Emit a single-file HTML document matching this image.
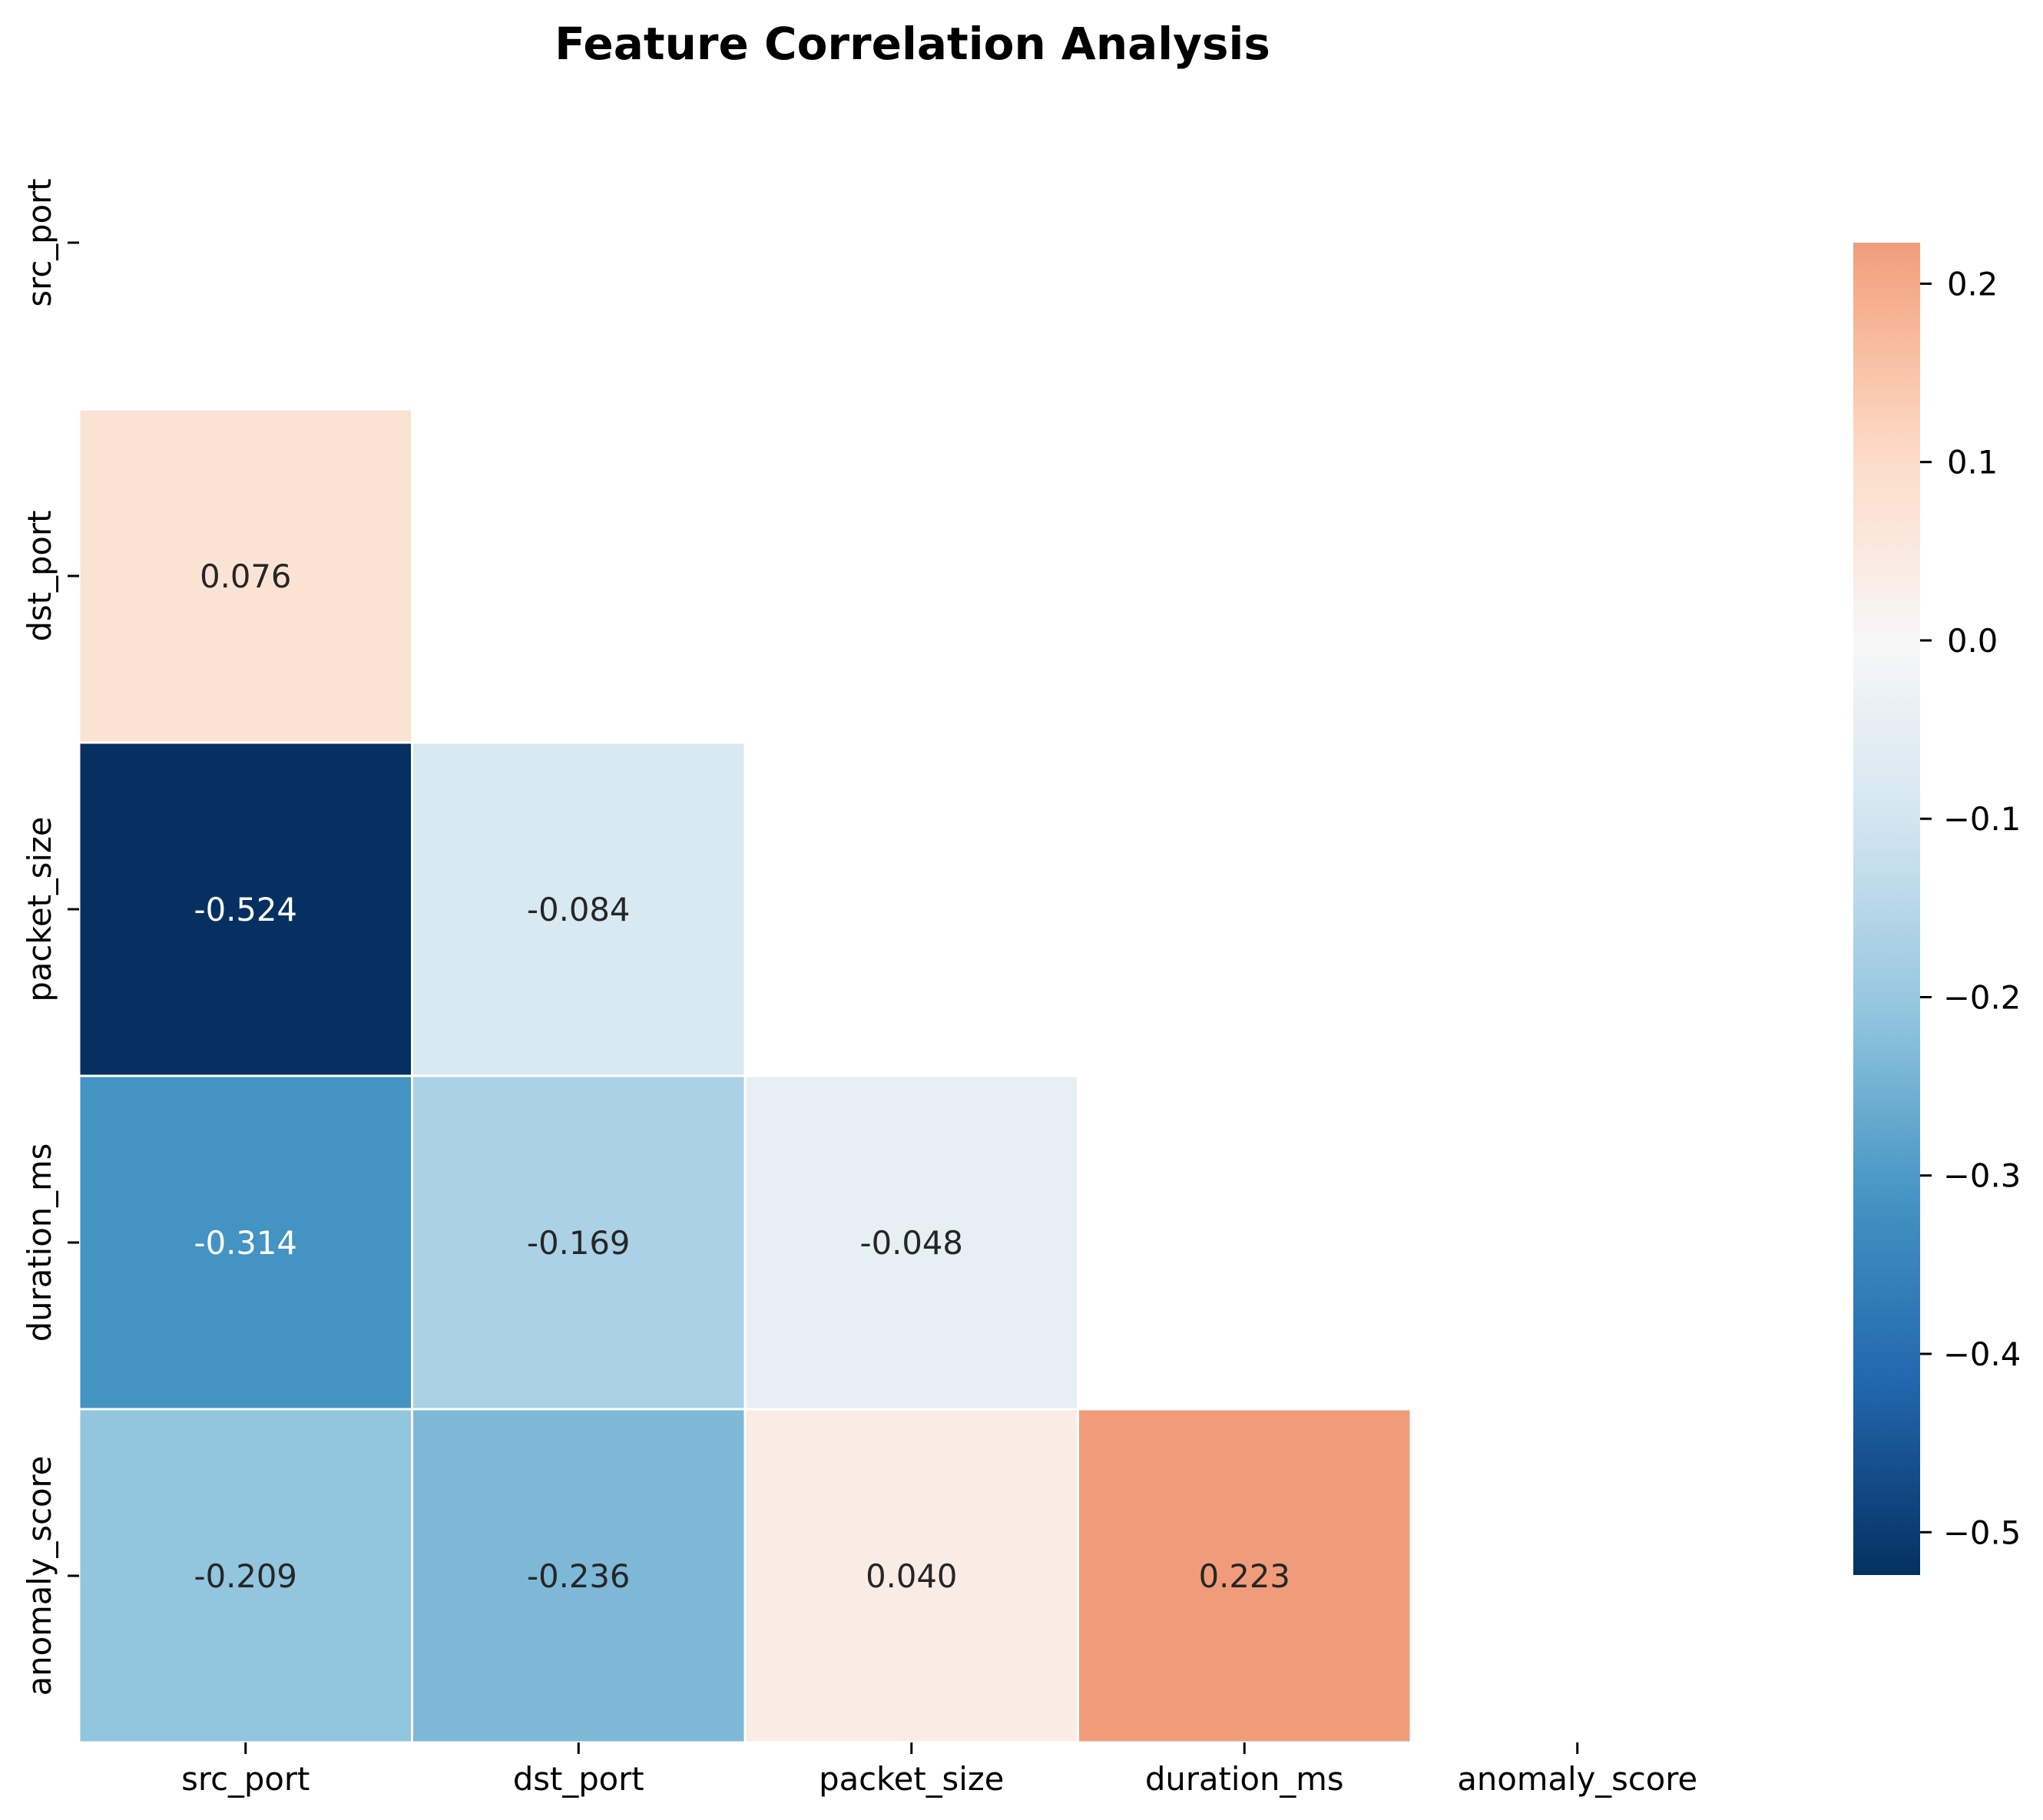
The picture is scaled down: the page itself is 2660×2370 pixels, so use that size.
<!DOCTYPE html>
<html><head><meta charset="utf-8"><style>
html,body{margin:0;padding:0;background:#fff;}
svg{display:block;font-family:"DejaVu Sans","Liberation Sans",sans-serif;}
</style></head><body>
<svg id="chart" width="2660" height="2370" viewBox="0 0 2660 2370" xmlns="http://www.w3.org/2000/svg">
<rect width="2660" height="2370" fill="#fff"/>
<text x="1188" y="77" text-anchor="middle" font-size="58" font-weight="bold" fill="#000">Feature Correlation Analysis</text>
<g id="cells"></g><g id="axes"></g><g id="cbar"></g>
</svg>
<script>
const features = ["src_port","dst_port","packet_size","duration_ms","anomaly_score"];
const rowIdx = [1,2,2,3,3,3,4,4,4,4];
const colIdx = [0,0,1,0,1,2,0,1,2,3];
const corrValues = [0.076,-0.524,-0.084,-0.314,-0.169,-0.048,-0.209,-0.236,0.040,0.223];
const cbarTicks = [0.2,0.1,0.0,-0.1,-0.2,-0.3,-0.4,-0.5];
const vmin = -0.524, vmax = 0.223;

const NS="http://www.w3.org/2000/svg";
const X0=103, Y0=99, CW=433.5, CH=434;
const xPos = i => X0 + i*CW;
const yPos = i => Y0 + i*CH;
const CB = {x:2413, w:87, top:316, bot:2051};
const cbY = v => CB.top + (vmax - v)/(vmax - vmin)*(CB.bot-CB.top);
const stops=["#053061","#2166ac","#4393c3","#92c5de","#d1e5f0","#f7f7f7","#fddbc7","#f4a582","#d6604d","#b2182b","#67001f"];
function hex(h){return [1,3,5].map(i=>parseInt(h.substr(i,2),16));}
function cmap(v){
  const m=Math.max(Math.abs(vmin),Math.abs(vmax));
  let t=0.5+v/(2*m); t=Math.max(0,Math.min(1,t));
  const p=t*10, i=Math.min(9,Math.floor(p)), f=p-i;
  const a=hex(stops[i]), b=hex(stops[i+1]);
  return "rgb("+a.map((c,k)=>Math.round(c+(b[k]-c)*f)).join(",")+")";
}
function el(tag,attrs,parent,text){
  const e=document.createElementNS(NS,tag);
  for(const k in attrs) e.setAttribute(k,attrs[k]);
  if(text!==undefined) e.textContent=text;
  parent.appendChild(e); return e;
}
const cells=document.getElementById("cells");
corrValues.forEach((v,k)=>{
  const r=rowIdx[k], c=colIdx[k];
  const rect=el("rect",{x:xPos(c),y:yPos(r),width:CW,height:CH,fill:cmap(v),stroke:"#fff","stroke-width":3},cells);
  
  
  const dark = v < -0.28;
  const t=el("text",{x:xPos(c)+CW/2,y:yPos(r)+CH/2+15,"text-anchor":"middle","font-size":"41.7",fill:dark?"#fff":"#262626"},cells,v.toFixed(3));
  
  
});
const axes=document.getElementById("axes");
features.forEach((f,i)=>{
  const cx=xPos(i)+CW/2, cy=yPos(i)+CH/2;
  const tx=el("line",{x1:cx,x2:cx,y1:Y0+5*CH,y2:Y0+5*CH+15,stroke:"#000","stroke-width":3},axes);
  
  
  const lx=el("text",{x:cx,y:Y0+5*CH+62,"text-anchor":"middle","font-size":"41.7",fill:"#000"},axes,f);
  
  
  const ty=el("line",{x1:X0-15,x2:X0,y1:cy,y2:cy,stroke:"#000","stroke-width":3},axes);
  
  
  const ly=el("text",{x:0,y:0,"text-anchor":"middle","font-size":"41.7",fill:"#000",transform:"translate(66,"+cy+") rotate(-90)"},axes,f);
  
  
});
const cb=document.getElementById("cbar");
const defs=el("defs",{},cb);
const grad=el("linearGradient",{id:"cg",x1:0,y1:0,x2:0,y2:1},defs);
for(let i=0;i<=40;i++){
  const v=vmax-(vmax-vmin)*i/40;
  el("stop",{offset:(i/40),"stop-color":cmap(v)},grad);
}
const bar=el("rect",{x:CB.x,y:CB.top,width:CB.w,height:CB.bot-CB.top,fill:"url(#cg)"},cb);


cbarTicks.forEach(v=>{
  const y=cbY(v);
  const tl=el("line",{x1:CB.x+CB.w,x2:CB.x+CB.w+15,y1:y,y2:y,stroke:"#000","stroke-width":3},cb);
  
  
  const s=(v<0?"\u2212":"")+Math.abs(v).toFixed(1);
  const tt=el("text",{x:v<0?2530:2535,y:y+15,"font-size":"41.7",fill:"#000"},cb,s);
  
  
});
</script>
</body></html>
